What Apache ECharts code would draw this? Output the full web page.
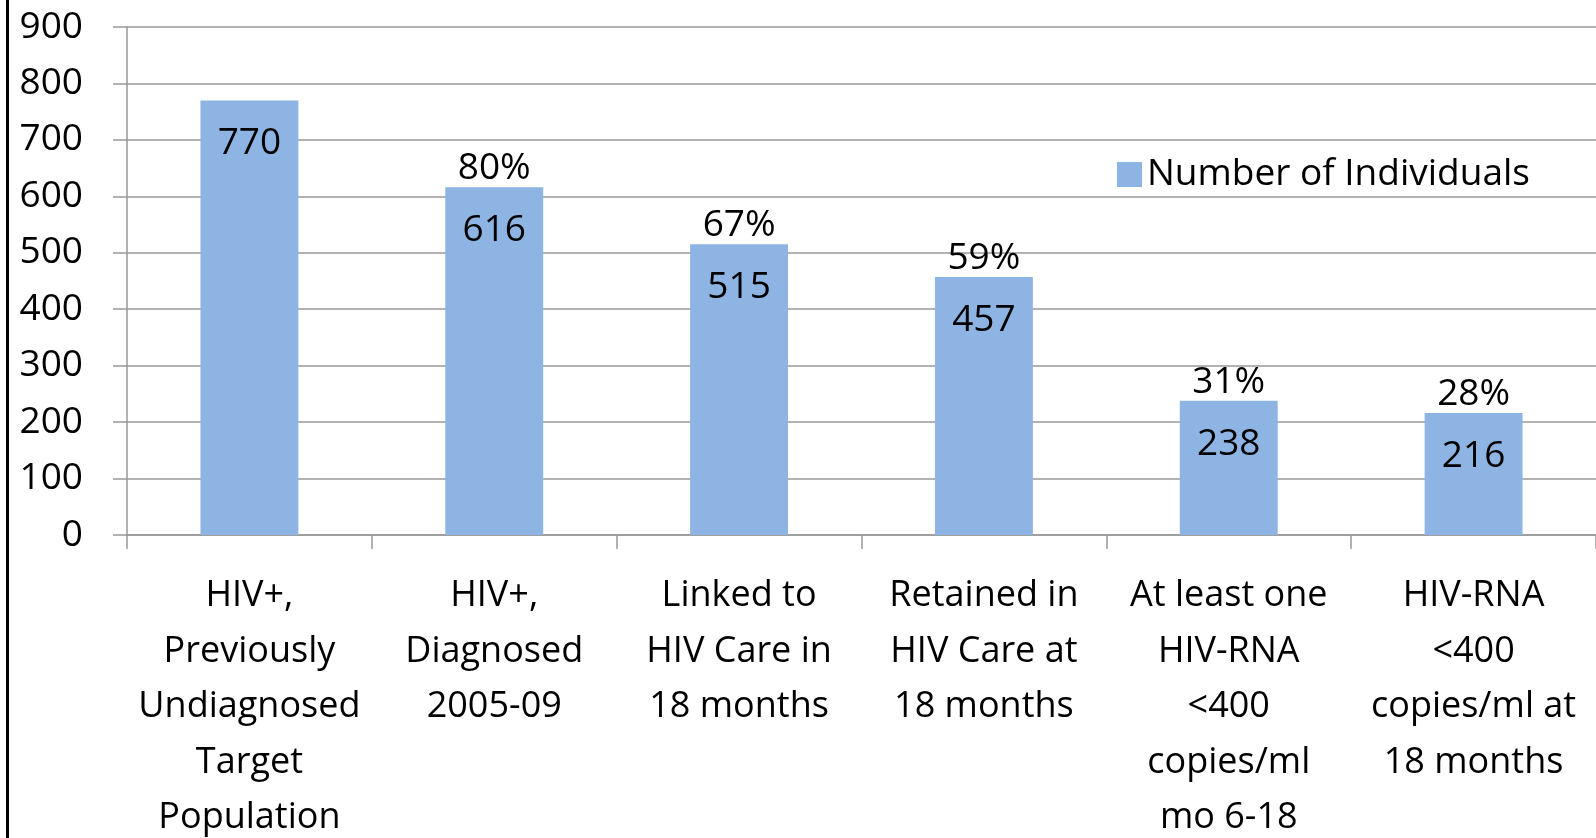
<!DOCTYPE html>
<html>
<head>
<meta charset="utf-8">
<script src="https://cdn.jsdelivr.net/npm/echarts@6/dist/echarts.min.js"></script>
<style>
  html, body { margin: 0; padding: 0; background: #fff; }
  #chart { width: 1596px; height: 838px; }
</style>
</head>
<body>
<div id="chart"></div>
<script>
var categories = [
    'HIV+,\nPreviously\nUndiagnosed\nTarget\nPopulation',
    'HIV+,\nDiagnosed\n2005-09',
    'Linked to\nHIV Care in\n18 months',
    'Retained in\nHIV Care at\n18 months',
    'At least one\nHIV-RNA\n<400\ncopies/ml\nmo 6-18',
    'HIV-RNA\n<400\ncopies/ml at\n18 months'
];
var individuals = [770, 616, 515, 457, 238, 216];
var percents = ['', '80%', '67%', '59%', '31%', '28%'];
var yTicks = [0, 100, 200, 300, 400, 500, 600, 700, 800, 900];

var font = '"Open Sans", sans-serif';
var chart = echarts.init(document.getElementById('chart'));

var option = {
    animation: false,
    textStyle: { fontFamily: font },
    grid: { left: 127, right: 0, top: 27, bottom: 303, outerBoundsMode: 'none' },
    legend: {
        data: ['Number of Individuals'],
        left: 1112, top: 151,
        itemWidth: 25, itemHeight: 25, itemGap: 10,
        icon: 'rect',
        textStyle: { fontSize: 37, color: '#000', fontFamily: font }
    },
    xAxis: {
        type: 'category',
        data: categories,
        axisLine: { lineStyle: { color: '#999', width: 1.5 } },
        axisTick: { show: true, length: 14, lineStyle: { color: '#999', width: 1.5 } },
        axisLabel: {
            interval: 0, margin: 33, fontSize: 36, color: '#000',
            lineHeight: 55.5, fontFamily: font, verticalAlign: 'top'
        }
    },
    yAxis: {
        type: 'value',
        min: yTicks[0], max: yTicks[yTicks.length - 1], interval: 100,
        axisLine: { show: true, lineStyle: { color: '#999', width: 1.5 } },
        axisTick: { show: true, length: 14, lineStyle: { color: '#999', width: 1.5 } },
        splitLine: { lineStyle: { color: '#999', width: 1.5 } },
        axisLabel: { margin: 44, fontSize: 37, color: '#000', fontFamily: font }
    },
    graphic: [{
        type: 'rect',
        shape: { x: 6, y: 0, width: 3, height: 838 },
        style: { fill: '#000' }
    }],
    series: [{
        name: 'Number of Individuals',
        type: 'bar',
        data: individuals,
        barWidth: '40%',
        itemStyle: { color: '#8EB4E3' },
        label: {
            show: true, position: 'insideTop', distance: 25,
            fontSize: 37, color: '#000', fontFamily: font
        }
    }, {
        name: 'pct',
        type: 'bar',
        data: individuals,
        barWidth: '40%',
        barGap: '-100%',
        itemStyle: { color: 'rgba(0,0,0,0)' },
        label: {
            show: true, position: 'top', distance: 0,
            fontSize: 37, color: '#000', fontFamily: font,
            formatter: function (p) { return percents[p.dataIndex]; }
        }
    }]
};
chart.setOption(option);
</script>
</body>
</html>
